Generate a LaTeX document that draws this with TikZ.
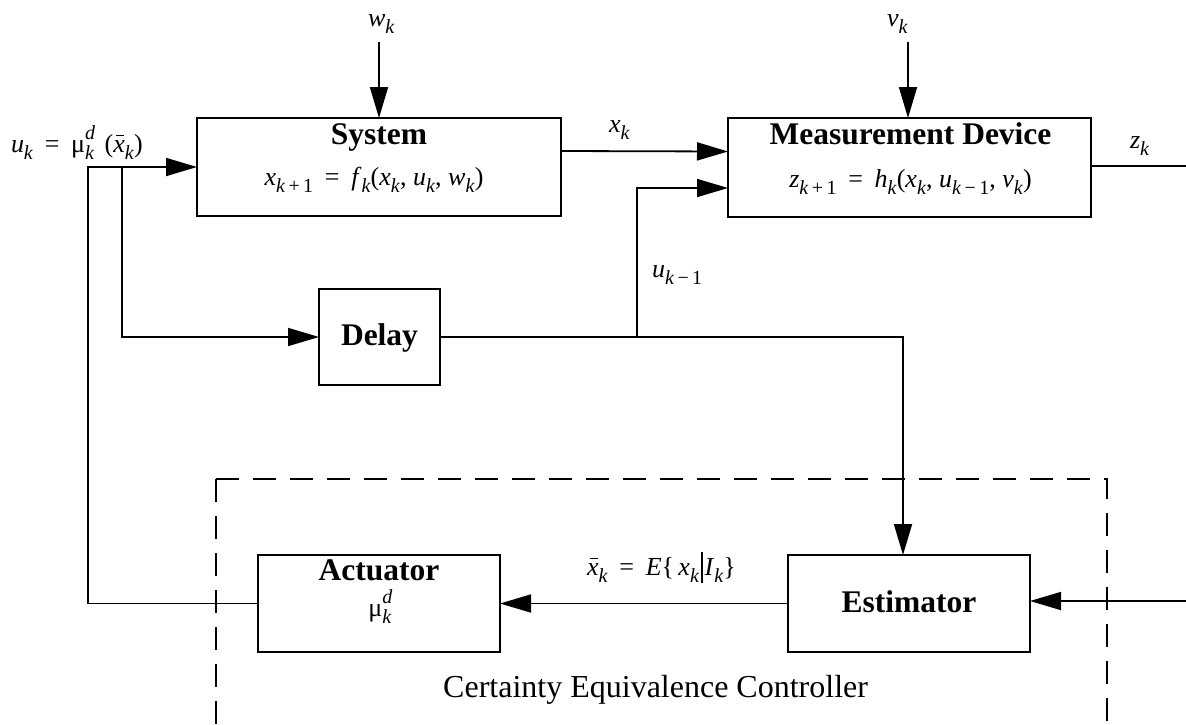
\documentclass[tikz,border=0pt]{standalone}
\usepackage{fontspec}
\setmainfont{Liberation Serif}
\usetikzlibrary{arrows.meta}

% font sizes (1pt = 1 unit of the drawing)
\newcommand\mainsz{\fontsize{26}{30}\selectfont}
\newcommand\titlesz{\fontsize{31.5}{36}\selectfont\bfseries}
\newcommand\capsz{\fontsize{32}{36}\selectfont}
% hand-set indices in Times-like italics
\newcommand\iv[1]{\textit{#1}}
\newcommand\lw[1]{\raisebox{-0.28em}{\fontsize{20}{22}\selectfont #1}}
\newcommand\hi[1]{\raisebox{0.5em}{\fontsize{20}{22}\selectfont #1}}
\newcommand\lwk{\lw{\iv{k}}}
\newcommand\lwhi[2]{\rlap{\hi{#2}}\lw{#1}}
\newcommand\eqs{\hspace{0.45em}=\hspace{0.45em}}
% x with an overbar (estimate)
\newcommand\xest{\rlap{\hspace{0.11em}\rule[0.6em]{0.3em}{0.055em}}\iv{x}}
% tall conditioning bar
\newcommand\cbar{\hspace{0.08em}\rule[-0.3em]{0.05em}{1.2em}\hspace{0.08em}}

\begin{document}
\begin{tikzpicture}[x=1pt,y=-1pt,
  blk/.style={draw,line width=2pt,inner sep=0pt,outer sep=0pt},
  txt/.style={inner sep=0pt,outer sep=0pt,anchor=base},
  lbl/.style={inner sep=0pt,outer sep=0pt,anchor=base west,font=\mainsz},
  wire/.style={line width=1.8pt},
  arr/.style={wire,-{Triangle[length=31pt,width=18pt]}},
  ctrl/.style={line width=2pt,dash pattern=on 23pt off 14pt}]

\fill[white] (0,0) rectangle (1186,724);
\useasboundingbox (0,0) rectangle (1186,724);

% blocks
\node[blk,minimum width=364pt,minimum height=98pt] (sys)  at (379,167) {};
\node[blk,minimum width=363pt,minimum height=99pt] (meas) at (909.5,167.5) {};
\node[blk,minimum width=121pt,minimum height=96pt] (dly)  at (379.5,337) {};
\node[blk,minimum width=242pt,minimum height=97pt] (act)  at (379,603.5) {};
\node[blk,minimum width=242pt,minimum height=97pt] (est)  at (909,603.5) {};

% block texts
\node[txt,font=\titlesz] (sysT) at (379,144) {System};
\node[txt,font=\mainsz] (sysE) at (374,185)
  {\iv{x}\lw{\iv{k}\,+\,1}\eqs\iv{f}\lwk(\iv{x}\lwk, \iv{u}\lwk, \iv{w}\lwk)};
\node[txt,font=\titlesz] (measT) at (910.5,144) {Measurement Device};
\node[txt,font=\mainsz] (measE) at (910.5,187)
  {\iv{z}\lw{\iv{k}\,+\,1}\eqs\iv{h}\lwk(\iv{x}\lwk, \iv{u}\lw{\iv{k}\,−\,1}, \iv{v}\lwk)};
\node[txt,font=\titlesz] (dlyT) at (379.5,345) {Delay};
\node[txt,font=\titlesz] (actT) at (379,580) {Actuator};
\node[txt,font=\mainsz] (actM) at (380,616) {μ\lwhi{\iv{k}}{\iv{d}}};
\node[txt,font=\titlesz] (estT) at (909,612) {Estimator};
\node[inner sep=0pt,anchor=base west,font=\capsz] (capT) at (443,697)
  {Certainty Equivalence Controller};

% signal labels
\node[lbl] (wk) at (368,26) {\iv{w}\lwk};
\node[lbl] (vk) at (887,26) {\iv{v}\lwk};
\node[lbl] (uk) at (11,152)
  {\iv{u}\lwk\hspace{0.45em}=\hspace{0.45em}μ\lwhi{\iv{k}}{\iv{d}}\hspace{0.4em}(\xest\lwk)};
\node[lbl] (xk) at (609,132) {\iv{x}\lwk};
\node[lbl] (ukm) at (652,277) {\iv{u}\lw{\iv{k}\,−\,1}};
\node[lbl] (zk) at (1130,148) {\iv{z}\lwk};
\node[lbl] (xbar) at (587,575)
  {\xest\lwk\hspace{0.45em}=\hspace{0.45em}\iv{E}\{\,\iv{x}\lwk\cbar\iv{I}\lwk\}};

% free ends and branch points
\coordinate (wIn)  at (379,42);
\coordinate (vIn)  at (908,42);
\coordinate (zOut) at (1186,166);
\coordinate (rIn)  at (1186,601);
\coordinate (fbTop) at (88,167);
\coordinate (brD)  at (122,167);
\coordinate (brU)  at (637,337);

% connectors
\draw[arr] (wIn) -- (wIn |- sys.north);
\draw[arr] (vIn) -- (vIn |- meas.north);
\draw[arr] ([yshift=16pt]sys.east) -- ([yshift=16pt]meas.west);
\draw[arr] (brU) |- ([yshift=-20.5pt]meas.west);
\draw[wire] (meas.east |- zOut) -- (zOut);
\draw[arr] (act.west) -| (fbTop) -- (sys.west);
\draw[arr] (brD) |- (dly.west);
\draw[arr] (dly.east) -| ([xshift=-6pt]est.north);
\draw[arr] (est.west) -- (act.east);
\draw[arr] (rIn) -- (rIn -| est.east);

% controller frame (open at the bottom edge)
\coordinate (cTL) at (216,479);
\coordinate (cTR) at (1107,479);
\coordinate (cBL) at (216,730);
\coordinate (cBR) at (1107,730);
\draw[ctrl] (cTL) -- (cBL);
\draw[ctrl] (cTL) -- (cTR) -- (cBR);
\end{tikzpicture}
\end{document}
